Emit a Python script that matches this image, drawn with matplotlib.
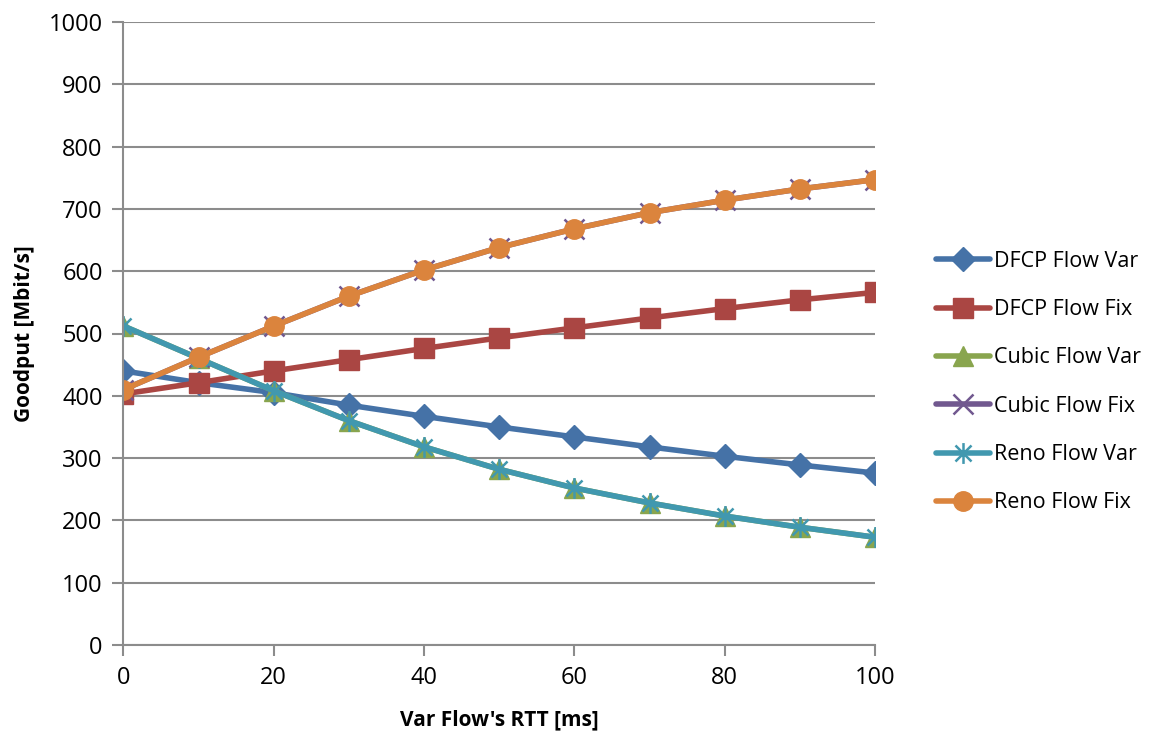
import matplotlib
matplotlib.use('Agg')
import matplotlib.pyplot as plt
from matplotlib.path import Path

rtt = [0, 10, 20, 30, 40, 50, 60, 70, 80, 90, 100]

dfcp_var = [440, 421, 405, 385, 367, 350, 334, 318, 303, 289, 276]
dfcp_fix = [403, 421, 440, 458, 476, 493, 509, 525, 540, 554, 566]
cubic_var = [512, 460, 408, 360, 318, 282, 252, 228, 207, 189, 173]
cubic_fix = [410, 462, 512, 560, 602, 638, 668, 694, 714, 732, 747]
reno_var = [512, 460, 408, 360, 318, 282, 252, 228, 207, 189, 173]
reno_fix = [410, 462, 512, 560, 602, 638, 668, 694, 714, 732, 747]

plt.rcParams['font.family'] = ['Open Sans', 'DejaVu Sans']

# asterisk: an x with a vertical bar through it
star = Path(
	[(-1, -1), (1, 1), (-1, 1), (1, -1), (0, -1.3), (0, 1.3)],
	[Path.MOVETO, Path.LINETO, Path.MOVETO, Path.LINETO, Path.MOVETO, Path.LINETO],
)

fig = plt.figure(figsize=(11.61, 7.32), dpi=100)
ax = fig.add_axes([123.5 / 1161, 1 - 645 / 732, (875 - 123.5) / 1161, (645 - 22) / 732])

grid_c = '#8c8c8c'
lw = 4

series = [
	('DFCP Flow Var', dfcp_var, '#4572a7', 'D', 12, {}),
	('DFCP Flow Fix', dfcp_fix, '#aa4643', 's', 14, {}),
	('Cubic Flow Var', cubic_var, '#89a54e', '^', 15, {}),
	('Cubic Flow Fix', cubic_fix, '#71588f', 'x', 14, {'markeredgewidth': 1.8}),
	('Reno Flow Var', reno_var, '#4198af', star, 15, {'markeredgewidth': 1.8}),
	('Reno Flow Fix', reno_fix, '#db843d', 'o', 14, {}),
]

for name, vals, c, m, ms, kw in series:
	ax.plot(rtt, vals, color=c, lw=lw, marker=m, markersize=ms,
		markerfacecolor=c, markeredgecolor=c, label=name, solid_capstyle='round', **kw)

ax.set_xlim(0, 100)
ax.set_ylim(0, 1000)
ax.set_xticks(range(0, 101, 20))
ax.set_yticks(range(0, 1001, 100))
ax.yaxis.grid(True, color=grid_c, lw=1.5)
ax.set_axisbelow(True)
for sp in ['top', 'right']:
	ax.spines[sp].set_visible(False)
for sp in ['left', 'bottom']:
	ax.spines[sp].set_color(grid_c)
	ax.spines[sp].set_linewidth(1.5)
ax.tick_params(axis='both', colors=grid_c, length=8, width=1.5, labelsize=17,
	labelcolor='black', direction='out', pad=7)
for line in ax.yaxis.get_ticklines():
	line.set_clip_on(False)

ax.set_xlabel("Var Flow's RTT [ms]", fontsize=15, fontweight='bold', labelpad=14)
ax.set_ylabel('Goodput [Mbit/s]', fontsize=15, fontweight='bold', labelpad=10)

ax.legend(loc='center left', bbox_to_anchor=(1.07, 0.422), frameon=False,
	fontsize=15.5, handlelength=2.5, labelspacing=1.27, handletextpad=0.2,
	borderaxespad=0)

fig.savefig('out.png', dpi=100)
